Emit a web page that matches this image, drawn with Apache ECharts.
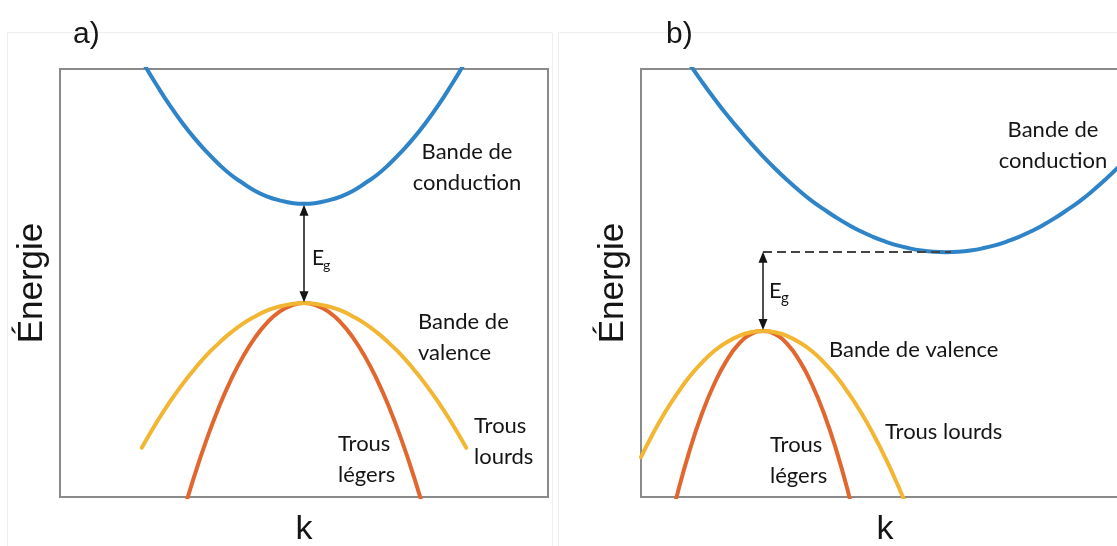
<!DOCTYPE html>
<html>
<head>
<meta charset="utf-8">
<script src="https://cdn.jsdelivr.net/npm/echarts/dist/echarts.min.js"></script>
<style>
  html, body { margin: 0; padding: 0; background: #ffffff; }
  #chart { width: 1117px; height: 546px; }
</style>
</head>
<body>
<div id="chart"></div>
<script>
// ---- a) direct gap: band extrema at the same k ----
const kCondA = [-0.7, -0.65, -0.6, -0.55, -0.5, -0.45, -0.4, -0.35, -0.3, -0.25, -0.2, -0.15, -0.1, -0.05, 0,
                0.05, 0.1, 0.15, 0.2, 0.25, 0.3, 0.35, 0.4, 0.45, 0.5, 0.55, 0.6, 0.65, 0.7];
const eCondA = [10.57, 10.06, 9.59, 9.15, 8.75, 8.39, 8.07, 7.78, 7.53, 7.33, 7.15, 7.02, 6.93, 6.87, 6.85,
                6.87, 6.93, 7.02, 7.15, 7.33, 7.53, 7.78, 8.07, 8.39, 8.75, 9.15, 9.59, 10.06, 10.57];

const kHeavyA = [-0.665, -0.6, -0.55, -0.5, -0.45, -0.4, -0.35, -0.3, -0.25, -0.2, -0.15, -0.1, -0.05, 0,
                 0.05, 0.1, 0.15, 0.2, 0.25, 0.3, 0.35, 0.4, 0.45, 0.5, 0.55, 0.6, 0.665];
const eHeavyA = [1.15, 1.78, 2.22, 2.62, 2.98, 3.31, 3.59, 3.84, 4.05, 4.22, 4.36, 4.45, 4.51, 4.53,
                 4.51, 4.45, 4.36, 4.22, 4.05, 3.84, 3.59, 3.31, 2.98, 2.62, 2.22, 1.78, 1.15];

const kLightA = [-0.5, -0.45, -0.4, -0.35, -0.3, -0.25, -0.2, -0.15, -0.1, -0.05, 0,
                 0.05, 0.1, 0.15, 0.2, 0.25, 0.3, 0.35, 0.4, 0.45, 0.5];
const eLightA = [-0.47, 0.48, 1.33, 2.08, 2.73, 3.28, 3.73, 4.08, 4.33, 4.48, 4.53,
                 4.48, 4.33, 4.08, 3.73, 3.28, 2.73, 2.08, 1.33, 0.48, -0.47];

// ---- b) indirect gap: conduction minimum shifted in k ----
const kCondB = [-0.8, -0.75, -0.7, -0.65, -0.6, -0.55, -0.5, -0.45, -0.4, -0.35, -0.3, -0.25, -0.2, -0.15, -0.1, -0.05, 0,
                0.05, 0.1, 0.15, 0.2, 0.25, 0.3, 0.35, 0.4, 0.45, 0.5, 0.55, 0.6, 0.65, 0.7, 0.75, 0.8, 0.85, 0.9, 0.95, 1.0];
const eCondB = [10.11, 9.70, 9.31, 8.94, 8.60, 8.27, 7.96, 7.67, 7.40, 7.15, 6.92, 6.72, 6.53, 6.36, 6.21, 6.08, 5.97,
                5.88, 5.81, 5.76, 5.73, 5.72, 5.73, 5.76, 5.81, 5.88, 5.97, 6.08, 6.21, 6.36, 6.53, 6.72, 6.92, 7.15, 7.40, 7.67, 7.96];

const kHeavyB = [-1.0, -0.95, -0.9, -0.85, -0.8, -0.75, -0.7, -0.65, -0.6, -0.55, -0.5,
                 -0.45, -0.4, -0.35, -0.3, -0.25, -0.2, -0.15, -0.1, -0.05, 0, 0.05, 0.1];
const eHeavyB = [0.93, 1.49, 1.99, 2.43, 2.82, 3.14, 3.41, 3.61, 3.76, 3.85, 3.88,
                 3.85, 3.76, 3.61, 3.41, 3.14, 2.82, 2.43, 1.99, 1.49, 0.93, 0.31, -0.37];

const kLightB = [-0.9, -0.85, -0.8, -0.75, -0.7, -0.65, -0.6, -0.55, -0.5, -0.45, -0.4, -0.35, -0.3, -0.25, -0.2, -0.15, -0.1];
const eLightB = [-1.06, 0.09, 1.10, 1.95, 2.64, 3.18, 3.57, 3.80, 3.88, 3.80, 3.57, 3.18, 2.64, 1.95, 1.10, 0.09, -1.06];

// ---- texts ----
const panelTitles = ['a)', 'b)'];
const axisNameE = 'Énergie';
const axisNameK = 'k';

const BLUE = '#2f84c8';
const YELLOW = '#f2b632';
const ORANGE = '#e2672f';
const INK = '#151515';
const ANNOT_FONT = 'Lato, "Open Sans", sans-serif';
const AXIS_FONT = '"Liberation Sans", Arial, sans-serif';

// arrowheads are centred on their end point: pull the ends in so the tips sit on the bands
const ARROW_INSET = 0.15;

const zip = (ks, es) => ks.map((k, i) => [k, es[i]]);

function extremumOf(ks, es, wantMax) {
  let idx = 0;
  es.forEach((e, i) => { if (wantMax ? e > es[idx] : e < es[idx]) idx = i; });
  return [ks[idx], es[idx]];
}

const cbA = extremumOf(kCondA, eCondA, false);
const vbA = extremumOf(kHeavyA, eHeavyA, true);
const cbB = extremumOf(kCondB, eCondB, false);
const vbB = extremumOf(kHeavyB, eHeavyB, true);

function bandLine(name, data, color, idx, extra) {
  return Object.assign({
    name: name,
    type: 'line',
    xAxisIndex: idx,
    yAxisIndex: idx,
    data: data,
    smooth: true,
    showSymbol: false,
    silent: true,
    clip: true,
    lineStyle: { color: color, width: 4, cap: 'round' },
    emphasis: { disabled: true }
  }, extra || {});
}

const arrowStyle = { color: INK, width: 1.5, type: 'solid' };

function annot(x, y, text, align, size) {
  return {
    type: 'text', x: x, y: y, silent: true,
    style: { text: text, font: (size || 22) + 'px ' + ANNOT_FONT, fill: INK, align: align, verticalAlign: 'top', lineHeight: 31 }
  };
}

const gridBase = { top: 69, width: 488, height: 428, show: true, borderColor: '#8a8a8a', borderWidth: 2,
                   backgroundColor: 'transparent', containLabel: false, outerBoundsMode: 'none' };

const option = {
  backgroundColor: '#ffffff',
  animation: false,
  title: [
    { text: panelTitles[0], left: 68, top: 15, textStyle: { fontFamily: AXIS_FONT, fontSize: 30, fontWeight: 'normal', color: INK } },
    { text: panelTitles[1], left: 661, top: 15, textStyle: { fontFamily: AXIS_FONT, fontSize: 30, fontWeight: 'normal', color: INK } }
  ],
  grid: [
    Object.assign({ left: 60 }, gridBase),
    Object.assign({ left: 641 }, gridBase)
  ],
  xAxis: [0, 1].map(i => ({
    type: 'value', gridIndex: i, min: -1, max: 1,
    name: axisNameK, nameLocation: 'middle', nameGap: 16,
    nameTextStyle: { fontFamily: AXIS_FONT, fontSize: 34, color: INK },
    axisLine: { show: false }, axisTick: { show: false }, axisLabel: { show: false }, splitLine: { show: false }
  })),
  yAxis: [0, 1].map(i => ({
    type: 'value', gridIndex: i, min: 0, max: 10,
    name: axisNameE, nameLocation: 'middle', nameGap: 10, nameRotate: 90,
    nameTextStyle: { fontFamily: AXIS_FONT, fontSize: 35, color: INK },
    axisLine: { show: false }, axisTick: { show: false }, axisLabel: { show: false }, splitLine: { show: false }
  })),
  series: [
    bandLine('Trous légers a', zip(kLightA, eLightA), ORANGE, 0),
    bandLine('Trous lourds a', zip(kHeavyA, eHeavyA), YELLOW, 0),
    bandLine('Bande de conduction a', zip(kCondA, eCondA), BLUE, 0, {
      markLine: {
        silent: true,
        symbol: ['triangle', 'triangle'],
        symbolSize: [9, 11],
        label: { show: false },
        lineStyle: arrowStyle,
        data: [[{ coord: [cbA[0], cbA[1] - ARROW_INSET] }, { coord: [cbA[0], vbA[1] + ARROW_INSET] }]]
      }
    }),
    bandLine('Trous légers b', zip(kLightB, eLightB), ORANGE, 1),
    bandLine('Trous lourds b', zip(kHeavyB, eHeavyB), YELLOW, 1),
    bandLine('Bande de conduction b', zip(kCondB, eCondB), BLUE, 1, {
      markLine: {
        silent: true,
        label: { show: false },
        symbolSize: [9, 11],
        lineStyle: arrowStyle,
        data: [
          [
            { coord: [vbB[0], cbB[1]], symbol: 'none', lineStyle: { color: '#444444', width: 1.8, type: [9, 5] } },
            { coord: [cbB[0] + 0.02, cbB[1]], symbol: 'none' }
          ],
          [
            { coord: [vbB[0], cbB[1] - ARROW_INSET + 0.03], symbol: 'triangle' },
            { coord: [vbB[0], vbB[1] + ARROW_INSET], symbol: 'triangle' }
          ]
        ]
      }
    })
  ],
  graphic: [
    // light outer frames of the two panels
    { type: 'rect', shape: { x: 7.5, y: 32.5, width: 545, height: 530 }, style: { fill: 'none', stroke: '#eeeeee', lineWidth: 1 }, silent: true, z: -1 },
    { type: 'rect', shape: { x: 558.5, y: 32.5, width: 600, height: 530 }, style: { fill: 'none', stroke: '#eeeeee', lineWidth: 1 }, silent: true, z: -1 },

    // panel a annotations
    annot(467, 136, 'Bande de\nconduction', 'center'),
    annot(418, 306, 'Bande de\nvalence', 'left'),
    annot(338, 428, 'Trous\nlégers', 'left'),
    annot(474, 410, 'Trous\nlourds', 'left'),
    annot(312, 243, 'E', 'left', 21),
    annot(323, 250, 'g', 'left', 14),

    // panel b annotations
    annot(1053, 114, 'Bande de\nconduction', 'center'),
    annot(829, 334, 'Bande de valence', 'left'),
    annot(885, 416, 'Trous lourds', 'left'),
    annot(770, 429, 'Trous\nlégers', 'left'),
    annot(769, 275, 'E', 'left', 22),
    annot(781, 283, 'g', 'left', 15)
  ]
};

const chart = echarts.init(document.getElementById('chart'), null, { renderer: 'canvas' });
chart.setOption(option);
</script>
</body>
</html>
